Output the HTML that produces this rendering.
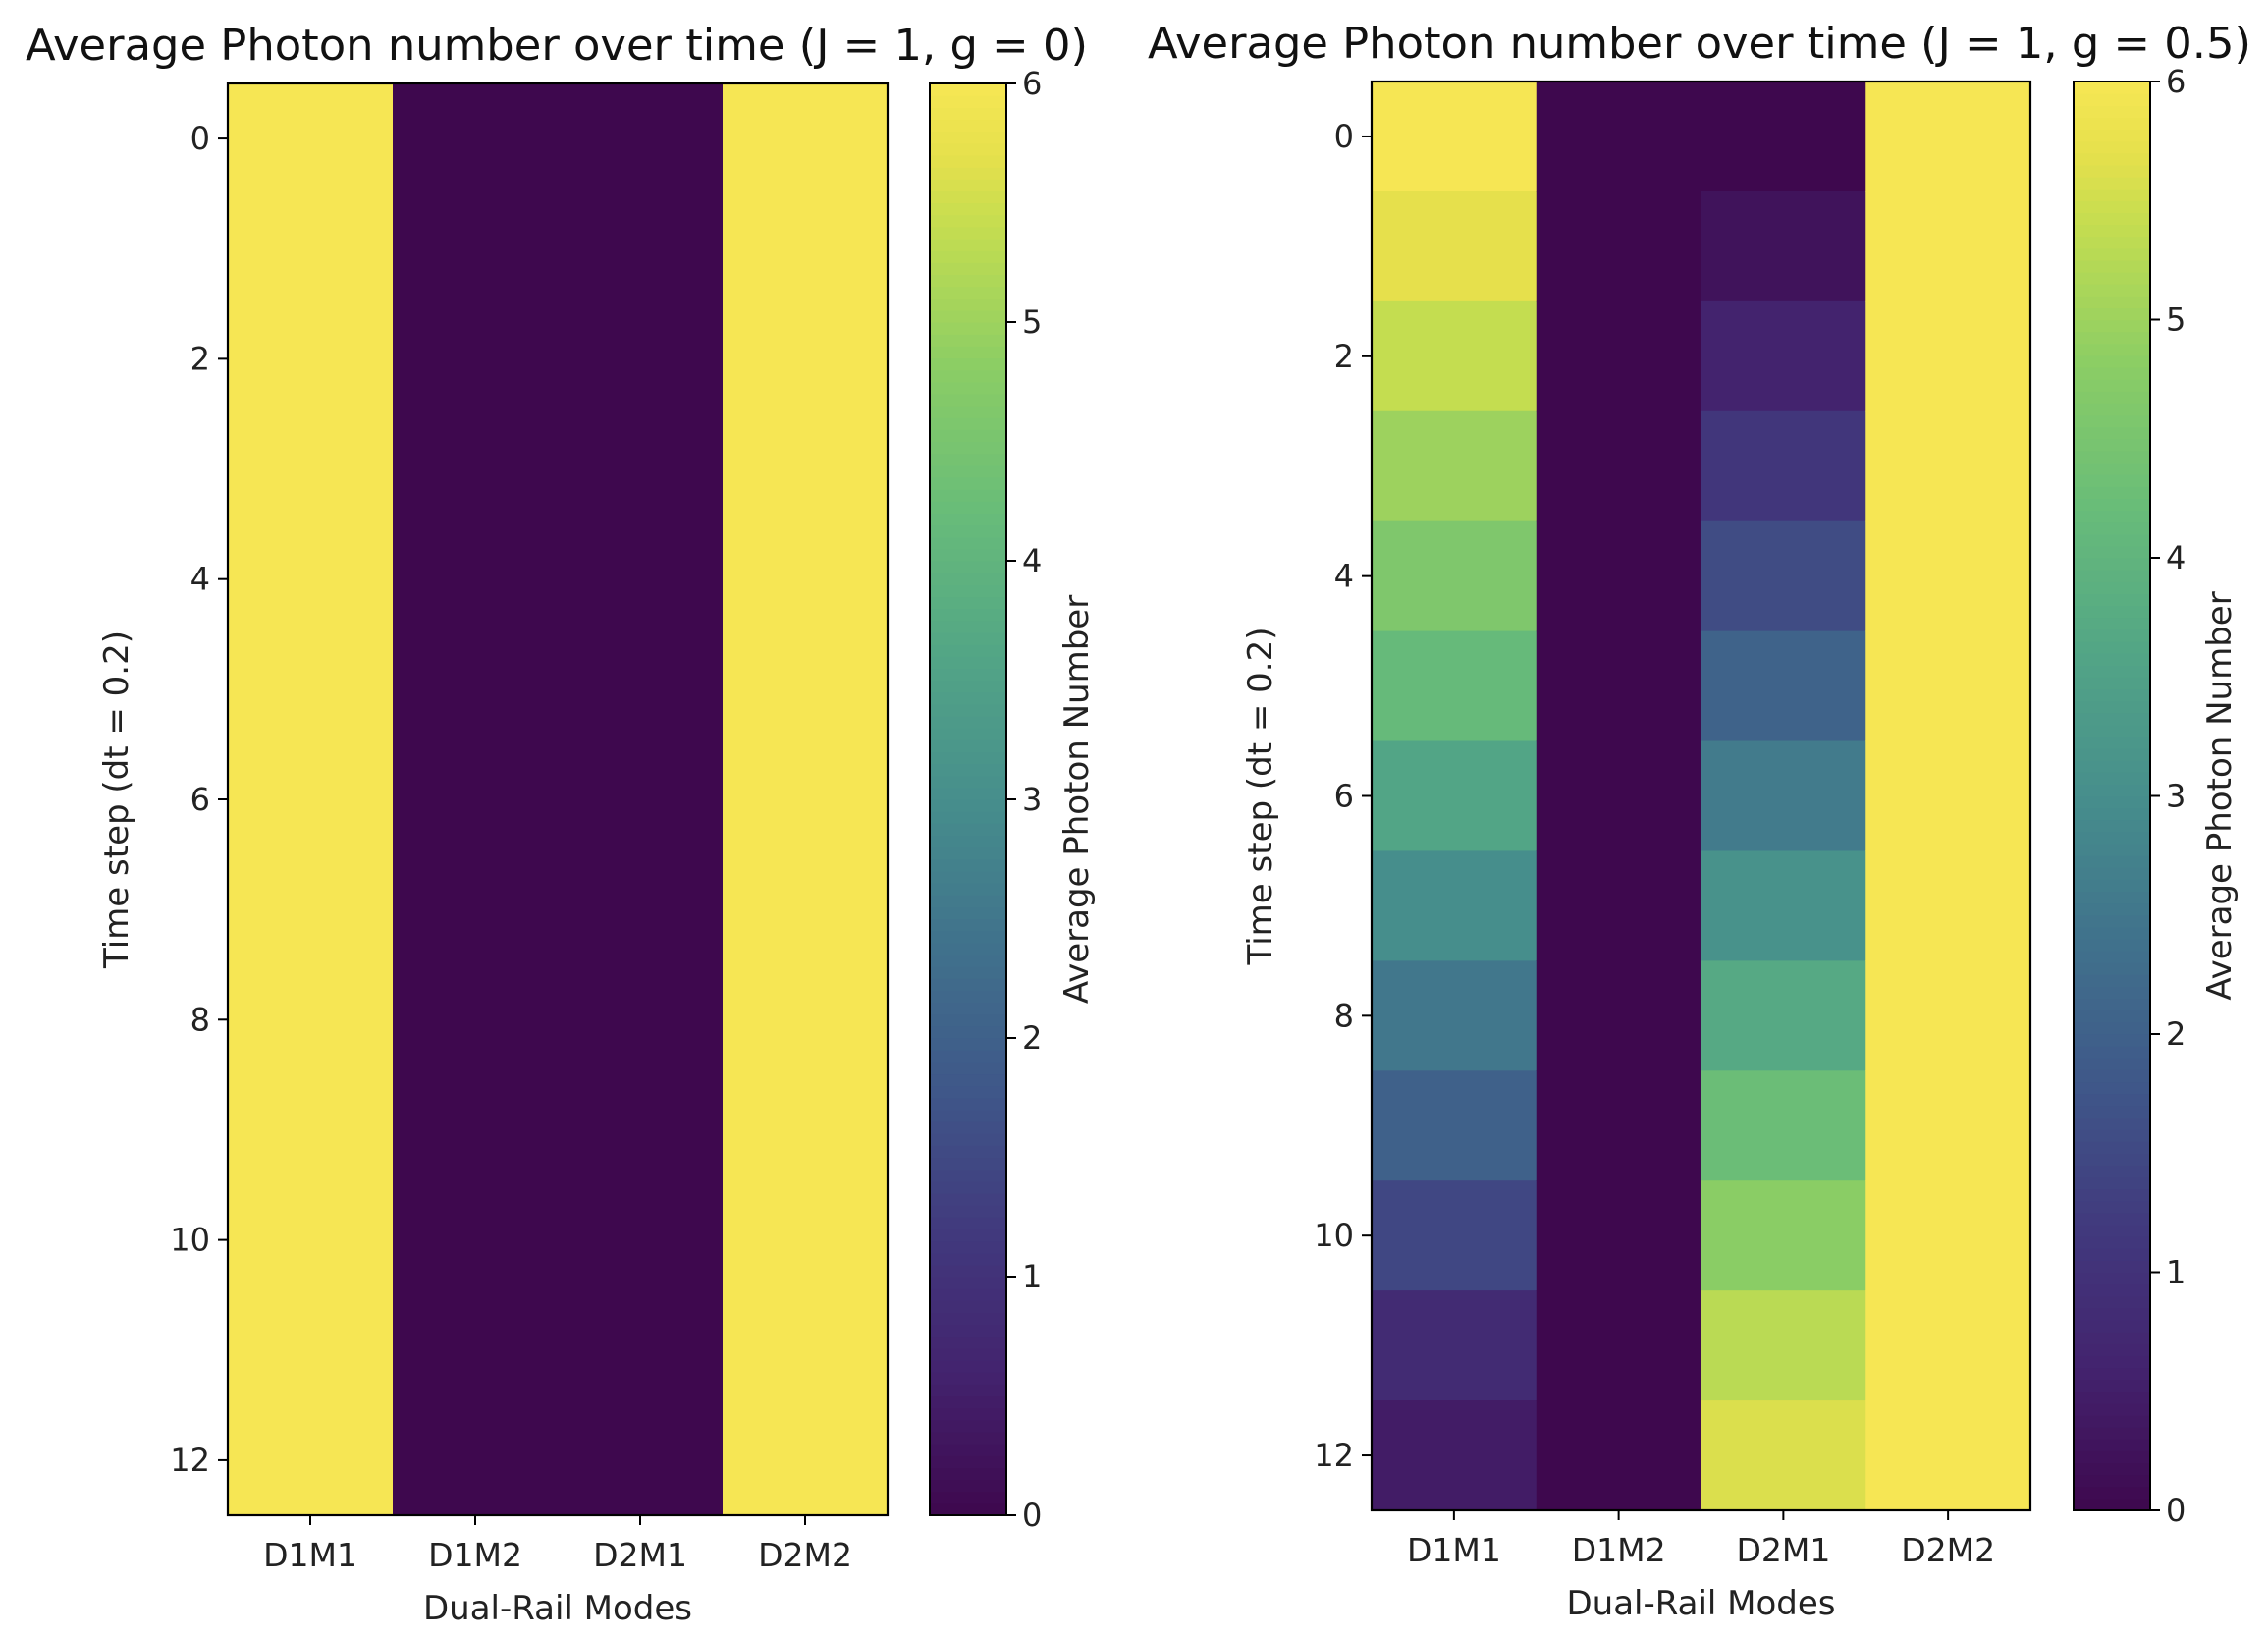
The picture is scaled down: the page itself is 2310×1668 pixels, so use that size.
<!DOCTYPE html>
<html><head><meta charset="utf-8"><style>
html,body{margin:0;padding:0;background:#fff;}
svg{display:block;font-family:"DejaVu Sans","Liberation Sans",sans-serif;}
</style></head><body>
<svg id="chart" width="2310" height="1668" viewBox="0 0 2310 1668"></svg>
<script>
const modes = ["D1M1","D1M2","D2M1","D2M2"];
const timeTicks = [0,2,4,6,8,10,12];
const cbTicks = [0,1,2,3,4,5,6];
const leftD1M1 = [6,6,6,6,6,6,6,6,6,6,6,6,6];
const leftD1M2 = [0,0,0,0,0,0,0,0,0,0,0,0,0];
const leftD2M1 = [0,0,0,0,0,0,0,0,0,0,0,0,0];
const leftD2M2 = [6,6,6,6,6,6,6,6,6,6,6,6,6];
const rightD1M1 = [6.0,5.7,5.4,5.0,4.6,4.15,3.6,3.0,2.5,2.0,1.45,0.8,0.45];
const rightD1M2 = [0,0,0,0,0,0,0,0,0,0,0,0,0];
const rightD2M1 = [0,0.25,0.6,1.1,1.55,2.05,2.6,3.1,3.7,4.25,4.8,5.3,5.6];
const rightD2M2 = [6,6,6,6,6,6,6,6,6,6,6,6,6];
const vmin = 0, vmax = 6;

const NS = "http://www.w3.org/2000/svg";
const svg = document.getElementById("chart");
const cmapPos = [0,0.1,0.2,0.3,0.4,0.5,0.6,0.7,0.8,0.9,0.95,1];
const cmapCol = [[62,8,78],[67,35,110],[65,58,126],[63,88,137],[64,114,140],[70,142,140],[82,165,134],[104,188,121],[138,205,101],[196,221,80],[230,224,76],[246,230,84]];
function cmap(t){t=Math.max(0,Math.min(1,t));let i=0;while(i<cmapPos.length-2&&t>cmapPos[i+1])i++;
 const f=(t-cmapPos[i])/(cmapPos[i+1]-cmapPos[i]);const a=cmapCol[i],b=cmapCol[i+1];
 const c=a.map((v,k)=>Math.round(v+(b[k]-v)*f));return `rgb(${c[0]},${c[1]},${c[2]})`;}
function el(tag,attrs,parent,text){const e=document.createElementNS(NS,tag);for(const k in attrs)e.setAttribute(k,attrs[k]);if(text!==undefined)e.textContent=text;(parent||svg).appendChild(e);return e;}

function panel(cfg){
  const {x0,x1,y0,y1,cbx0,cbx1,cols,title,titleX,titleW,ylabX,cbLabX,name}=cfg;
  const g=el("g",{});
  
  
  const nRows=cols[0].length, nCols=cols.length;
  const xs=c=>x0+(x1-x0)*c/nCols;
  const ys=r=>y0+(y1-y0)*r/nRows;
  const cw=(x1-x0)/nCols, rh=(y1-y0)/nRows;
  cols.forEach((col,c)=>col.forEach((v,r)=>{
    const rc=el("rect",{x:xs(c),y:ys(r),width:cw+0.6,height:rh+0.6,fill:cmap((v-vmin)/(vmax-vmin))},g);
    
    
  }));
  el("rect",{x:x0,y:y0,width:x1-x0,height:y1-y0,fill:"none",stroke:"#000","stroke-width":2.2},g);
  timeTicks.forEach(t=>{const y=ys(t+0.5);
    el("line",{x1:x0-10,y1:y,x2:x0,y2:y,stroke:"#000","stroke-width":2},g);
    const tx=el("text",{x:x0-18,y:y+11,"text-anchor":"end","font-size":32,fill:"#222"},g,String(t));
    
    
  });
  modes.forEach((m,c)=>{const x=xs(c+0.5);
    el("line",{x1:x,y1:y1,x2:x,y2:y1+10,stroke:"#000","stroke-width":2},g);
    const tx=el("text",{x:x,y:y1+52,"text-anchor":"middle","font-size":33,fill:"#222"},g,m);
    
    
  });
  const xl=el("text",{x:(x0+x1)/2,y:y1+106,"text-anchor":"middle","font-size":34,fill:"#222"},g,"Dual-Rail Modes");
  
  
  const yl=el("text",{x:0,y:0,"text-anchor":"middle","font-size":34,fill:"#222",transform:`translate(${ylabX},${(y0+y1)/2}) rotate(-90)`},g,"Time step (dt = 0.2)");
  
  
  const tt=el("text",{x:titleX,y:y0-24,"font-size":44,fill:"#111",textLength:titleW,lengthAdjust:"spacingAndGlyphs"},g,title);
  
  
  const N=120, ch=(y1-y0)/N;
  for(let i=0;i<N;i++){el("rect",{x:cbx0,y:y1-(i+1)*ch,width:cbx1-cbx0,height:ch+0.6,fill:cmap((i+0.5)/N)},g);}
  const cb=el("rect",{x:cbx0,y:y0,width:cbx1-cbx0,height:y1-y0,fill:"none",stroke:"#000","stroke-width":2},g);
  
  
  const cy=v=>y1-(y1-y0)*(v-vmin)/(vmax-vmin);
  cbTicks.forEach(v=>{const y=cy(v);
    el("line",{x1:cbx1,y1:y,x2:cbx1+10,y2:y,stroke:"#000","stroke-width":2},g);
    const tx=el("text",{x:cbx1+16,y:y+11,"font-size":32,fill:"#222"},g,String(v));
    
    
  });
  const cl=el("text",{x:0,y:0,"text-anchor":"middle","font-size":34,fill:"#222",transform:`translate(${cbLabX},${(y0+y1)/2}) rotate(-90)`},g,"Average Photon Number");
  
  
}
panel({name:"left-heatmap",x0:232,x1:904,y0:85,y1:1543,cbx0:947,cbx1:1025,
  cols:[leftD1M1,leftD1M2,leftD2M1,leftD2M2],title:"Average Photon number over time (J = 1, g = 0)",
  titleX:26,titleW:1082,ylabX:130,cbLabX:1108});
panel({name:"right-heatmap",x0:1397,x1:2068,y0:83,y1:1538,cbx0:2112,cbx1:2190,
  cols:[rightD1M1,rightD1M2,rightD2M1,rightD2M2],title:"Average Photon number over time (J = 1, g = 0.5)",
  titleX:1169,titleW:1124,ylabX:1295,cbLabX:2272});
</script>
</body></html>
